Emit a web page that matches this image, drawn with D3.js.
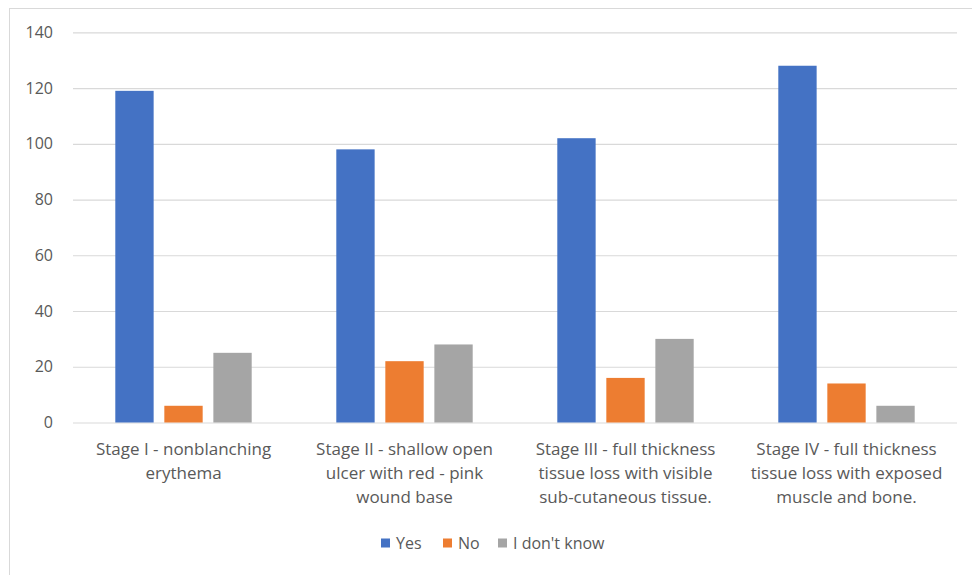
<!DOCTYPE html>
<html>
<head>
<meta charset="utf-8">
<script src="https://cdn.jsdelivr.net/npm/d3@7"></script>
<style>
  html, body { margin: 0; padding: 0; background: #fff; }
  svg { display: block; }
  text { font-family: "Open Sans", Lato, sans-serif; fill: #595959; }
</style>
</head>
<body>
<svg id="chart" width="972" height="575"></svg>
<script>
// Pressure ulcer stages (label lines) and responses per stage
const categories = [
  "Stage I - nonblanching\nerythema",
  "Stage II - shallow open\nulcer with red - pink\nwound base",
  "Stage III - full thickness\ntissue loss with visible\nsub-cutaneous tissue.",
  "Stage IV - full thickness\ntissue loss with exposed\nmuscle and bone."
];
const seriesNames = ["Yes", "No", "I don't know"];
const yesValues = [119, 98, 102, 128];
const noValues = [6, 22, 16, 14];
const dontKnowValues = [25, 28, 30, 6];
const yTicks = [0, 20, 40, 60, 80, 100, 120, 140];
const seriesColors = ["#4472C4", "#ED7D31", "#A5A5A5"];

const seriesValues = [yesValues, noValues, dontKnowValues];

const svg = d3.select("#chart");

// outer chart frame
svg.append("rect")
  .attr("x", 9.5).attr("y", 8.5)
  .attr("width", 1000).attr("height", 600)
  .attr("fill", "none").attr("stroke", "#d9d9d9").attr("stroke-width", 1);

const plot = { left: 73, right: 957, top: 32.3, bottom: 422.5 };

const x = d3.scaleBand()
  .domain(categories)
  .range([plot.left, plot.right])
  .padding(0);

const groupPad = 42.3;
const xs = d3.scaleBand()
  .domain(seriesNames)
  .range([groupPad, x.bandwidth() - groupPad])
  .paddingInner(0.218)
  .paddingOuter(0);

const y = d3.scaleLinear().domain([0, 140]).range([plot.bottom, plot.top]);

// horizontal gridlines and y labels
const yAxis = d3.axisLeft(y)
  .tickValues(yTicks)
  .tickSize(-(plot.right - plot.left))
  .tickPadding(20);

const gy = svg.append("g")
  .attr("transform", `translate(${plot.left},0)`)
  .call(yAxis);
gy.select(".domain").remove();
gy.selectAll(".tick line").attr("stroke", "#d9d9d9").attr("stroke-width", 1.2);
gy.selectAll(".tick text")
  .style("font-size", "16px")
  .style("font-family", "'Open Sans', sans-serif")
  .attr("fill", "#595959");

// bars
const rows = categories.map((c, i) => ({
  cat: c,
  vals: seriesNames.map((s, j) => ({ series: s, value: seriesValues[j][i], color: seriesColors[j] }))
}));

const groups = svg.append("g").selectAll("g")
  .data(rows)
  .join("g")
  .attr("transform", d => `translate(${x(d.cat)},0)`);

groups.selectAll("rect")
  .data(d => d.vals)
  .join("rect")
  .attr("x", d => xs(d.series))
  .attr("width", xs.bandwidth())
  .attr("y", d => y(d.value))
  .attr("height", d => y(0) - y(d.value))
  .attr("fill", d => d.color);

// category labels
const xAxis = d3.axisBottom(x).tickSize(0).tickFormat("");
const gx = svg.append("g")
  .attr("transform", `translate(0,${plot.bottom})`)
  .call(xAxis);
gx.select(".domain").remove();

gx.selectAll(".tick").each(function(d) {
  const t = d3.select(this).append("text")
    .attr("text-anchor", "middle")
    .attr("y", 32)
    .style("font-size", "17px")
    .style("font-family", "'Open Sans', sans-serif")
    .attr("fill", "#595959");
  d.split("\n").forEach((line, k) => {
    t.append("tspan").attr("x", 0).attr("dy", k === 0 ? 0 : 24.3).text(line);
  });
});

// legend
const legendX = [381, 443, 498];
const legend = svg.append("g").selectAll("g")
  .data(seriesNames)
  .join("g")
  .attr("transform", (d, i) => `translate(${legendX[i]},543)`);
legend.append("rect")
  .attr("x", 0).attr("y", -4.5)
  .attr("width", 9).attr("height", 9)
  .attr("fill", (d, i) => seriesColors[i]);
legend.append("text")
  .attr("x", 15).attr("dy", "0.35em")
  .style("font-size", "16px")
  .text(d => d);
</script>
</body>
</html>
